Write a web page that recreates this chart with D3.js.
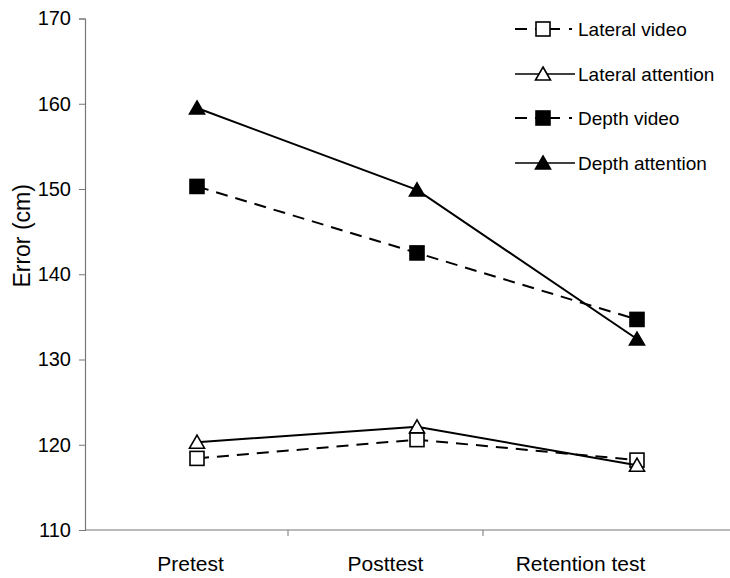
<!DOCTYPE html>
<html>
<head>
<meta charset="utf-8">
<script src="https://cdnjs.cloudflare.com/ajax/libs/d3/7.8.5/d3.min.js"></script>
<style>
  body { margin: 0; background: #fff; }
  svg { font-family: "Liberation Sans", Arial, sans-serif; }
</style>
</head>
<body>
<div id="chart"></div>
<script>
// tests on the x axis
var sessions = ["Pretest", "Posttest", "Retention test"];

// mean error (cm) per session
var lateralVideo     = [118.4, 120.6, 118.2];
var lateralAttention = [120.3, 122.1, 117.6];
var depthVideo       = [150.3, 142.5, 134.7];
var depthAttention   = [159.5, 149.9, 132.4];

var yTicks = [110, 120, 130, 140, 150, 160, 170];

var seriesNames = ["Lateral video", "Lateral attention", "Depth video", "Depth attention"];

Chart = function(_parentElement) {
  this.parentElement = _parentElement;
  this.width = 730;
  this.height = 578;

  this.series = [
    {name: seriesNames[0], values: lateralVideo,     dashed: true,  shape: "square",   filled: false},
    {name: seriesNames[1], values: lateralAttention, dashed: false, shape: "triangle", filled: false},
    {name: seriesNames[2], values: depthVideo,       dashed: true,  shape: "square",   filled: true},
    {name: seriesNames[3], values: depthAttention,   dashed: false, shape: "triangle", filled: true}
  ];

  this.initVis();
};

Chart.prototype.initVis = function() {
  var vis = this;

  vis.y = d3.scaleLinear()
    .domain([110, 170])
    .range([530, 18.5]);

  // category bands for the axis labels / ticks
  vis.xBand = d3.scaleBand()
    .domain(sessions)
    .range([93, 678]);

  // the plotted points sit a bit to the right of the labels in the original
  vis.xPoint = d3.scalePoint()
    .domain(sessions)
    .range([197, 637]);

  vis.svg = d3.select(vis.parentElement).append("svg")
    .attr("width", vis.width)
    .attr("height", vis.height);

  vis.drawAxes();
  vis.drawSeries();
  vis.drawLegend();
};

Chart.prototype.drawAxes = function() {
  var vis = this;

  var yAxis = d3.axisLeft(vis.y)
    .tickValues(yTicks)
    .tickSize(6)
    .tickPadding(8);

  var gy = vis.svg.append("g")
    .attr("class", "y axis")
    .attr("transform", "translate(85,0)")
    .call(yAxis);
  gy.select(".domain").attr("stroke", "#777").attr("stroke-width", 1.2);
  gy.selectAll(".tick line").attr("stroke", "#777");
  gy.selectAll(".tick text")
    .attr("font-size", 20)
    .attr("fill", "#000")
    .attr("font-family", "Liberation Sans, Arial, sans-serif");

  // x axis line runs from the y axis to the right edge
  vis.svg.append("line")
    .attr("x1", 85).attr("x2", 730)
    .attr("y1", vis.y(110)).attr("y2", vis.y(110))
    .attr("stroke", "#777")
    .attr("stroke-width", 1.2);

  // tick marks between categories
  vis.svg.selectAll(".xtick")
    .data(sessions.slice(1)).enter()
    .append("line")
    .attr("class", "xtick")
    .attr("x1", function(d) { return vis.xBand(d); })
    .attr("x2", function(d) { return vis.xBand(d); })
    .attr("y1", vis.y(110))
    .attr("y2", vis.y(110) + 6)
    .attr("stroke", "#777");

  vis.svg.selectAll(".xlabel")
    .data(sessions).enter()
    .append("text")
    .attr("class", "xlabel")
    .attr("x", function(d) { return vis.xBand(d) + vis.xBand.bandwidth() / 2; })
    .attr("y", 571)
    .attr("text-anchor", "middle")
    .attr("font-size", 21)
    .text(function(d) { return d; });

  vis.svg.append("text")
    .attr("transform", "translate(30," + vis.y(144.5) + ") rotate(-90)")
    .attr("text-anchor", "middle")
    .attr("font-size", 23)
    .text("Error (cm)");
};

Chart.prototype.marker = function(g, s, cx, cy) {
  if (s.shape === "square") {
    g.append("rect")
      .attr("x", cx - 7).attr("y", cy - 7)
      .attr("width", 14).attr("height", 14)
      .attr("fill", s.filled ? "#000" : "#fff")
      .attr("stroke", "#000")
      .attr("stroke-width", 1.6);
  } else {
    g.append("path")
      .attr("d", "M" + cx + "," + (cy - 7) + "L" + (cx + 7.5) + "," + (cy + 6) + "L" + (cx - 7.5) + "," + (cy + 6) + "Z")
      .attr("fill", s.filled ? "#000" : "#fff")
      .attr("stroke", "#000")
      .attr("stroke-width", 1.6)
      .attr("stroke-linejoin", "miter");
  }
};

Chart.prototype.drawSeries = function() {
  var vis = this;

  var line = d3.line()
    .x(function(d, i) { return vis.xPoint(sessions[i]); })
    .y(function(d) { return vis.y(d); });

  vis.series.forEach(function(s) {
    var g = vis.svg.append("g").attr("class", "series");
    g.append("path")
      .datum(s.values)
      .attr("d", line)
      .attr("fill", "none")
      .attr("stroke", "#000")
      .attr("stroke-width", 2)
      .attr("stroke-dasharray", s.dashed ? "12,8" : null);

    s.values.forEach(function(v, i) {
      vis.marker(g, s, vis.xPoint(sessions[i]), vis.y(v));
    });
  });
};

Chart.prototype.drawLegend = function() {
  var vis = this;
  var rowY = [29, 74, 118, 163];

  vis.series.forEach(function(s, i) {
    var g = vis.svg.append("g").attr("class", "legend");
    var y = rowY[i];
    if (s.dashed) {
      g.append("line").attr("x1", 515).attr("x2", 527).attr("y1", y).attr("y2", y)
        .attr("stroke", "#000").attr("stroke-width", 2);
      g.append("line").attr("x1", 535).attr("x2", 560).attr("y1", y).attr("y2", y)
        .attr("stroke", "#000").attr("stroke-width", 2);
      g.append("line").attr("x1", 569).attr("x2", 572).attr("y1", y).attr("y2", y)
        .attr("stroke", "#000").attr("stroke-width", 2);
    } else {
      g.append("line").attr("x1", 515).attr("x2", 575).attr("y1", y).attr("y2", y)
        .attr("stroke", "#000").attr("stroke-width", 1.6);
    }
    vis.marker(g, s, 543, y);
    g.append("text")
      .attr("x", 578)
      .attr("y", y)
      .attr("dy", "0.35em")
      .attr("font-size", 19)
      .text(s.name);
  });
};

new Chart("#chart");
</script>
</body>
</html>
